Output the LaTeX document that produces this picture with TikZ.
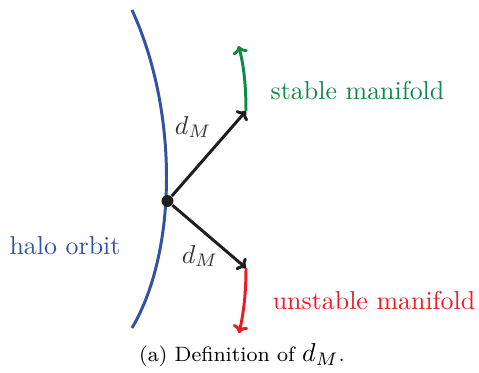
\documentclass[tikz,border=0pt]{standalone}
\usepackage{amsmath,amssymb}
\usepackage{tikz}
\usetikzlibrary{arrows.meta, positioning, calc}

\definecolor{haloblue}{RGB}{52,82,165}
\definecolor{stabgreen}{RGB}{16,136,72}
\definecolor{unstabred}{RGB}{236,28,36}

\begin{document}
\begin{tikzpicture}[
    x=0.386pt, y=-0.386pt,
    orbit/.style={haloblue, line width=1.15pt},
    vec/.style={-{To[length=3pt, width=6pt]}, line width=1.15pt, black!88},
    mani/.style={-{To[length=3pt, width=6pt]}, line width=1.15pt},
    dlabel/.style={text=black!80, inner sep=0pt},
    mlabel/.style={font=\normalsize, inner sep=0pt},
]
\useasboundingbox (0,0) rectangle (479,372);

% ── Halo orbit ──
\coordinate (Htop) at (132,10);
\coordinate (Hbot) at (132,328);
\draw[orbit] (Htop) .. controls (178,110) and (178,250) .. (Hbot);
\node[mlabel, text=haloblue] (halo) at (65,246) {halo orbit};

% ── Point and displacement vectors ──
\node[circle, fill=black!88, inner sep=0pt, minimum size=4.6pt] (P) at (167.5,201) {};
\coordinate (S) at (246,111);
\coordinate (U) at (246,268);
\draw[vec] (P) -- (S);
\draw[vec] (P) -- (U);
\node[dlabel] (dS) at (193,127) {$d_M$};
\node[dlabel] (dU) at (200,256) {$d_M$};

% ── Manifold directions ──
\coordinate (Send) at (238.5,46);
\coordinate (Uend) at (239,333);
\draw[mani, stabgreen] (S) .. controls (246,82) and (243,62) .. (Send);
\draw[mani, unstabred] (U) .. controls (246,296) and (243,316) .. (Uend);
\node[mlabel, text=stabgreen] (stable) at (357.5,90) {stable manifold};
\node[mlabel, text=unstabred] (unstable) at (374,300) {unstable manifold};

% ── Caption ──
\node[font=\footnotesize] (cap) at (242,355) {(a) Definition of {\normalsize$d_M$}.};

\end{tikzpicture}
\end{document}
